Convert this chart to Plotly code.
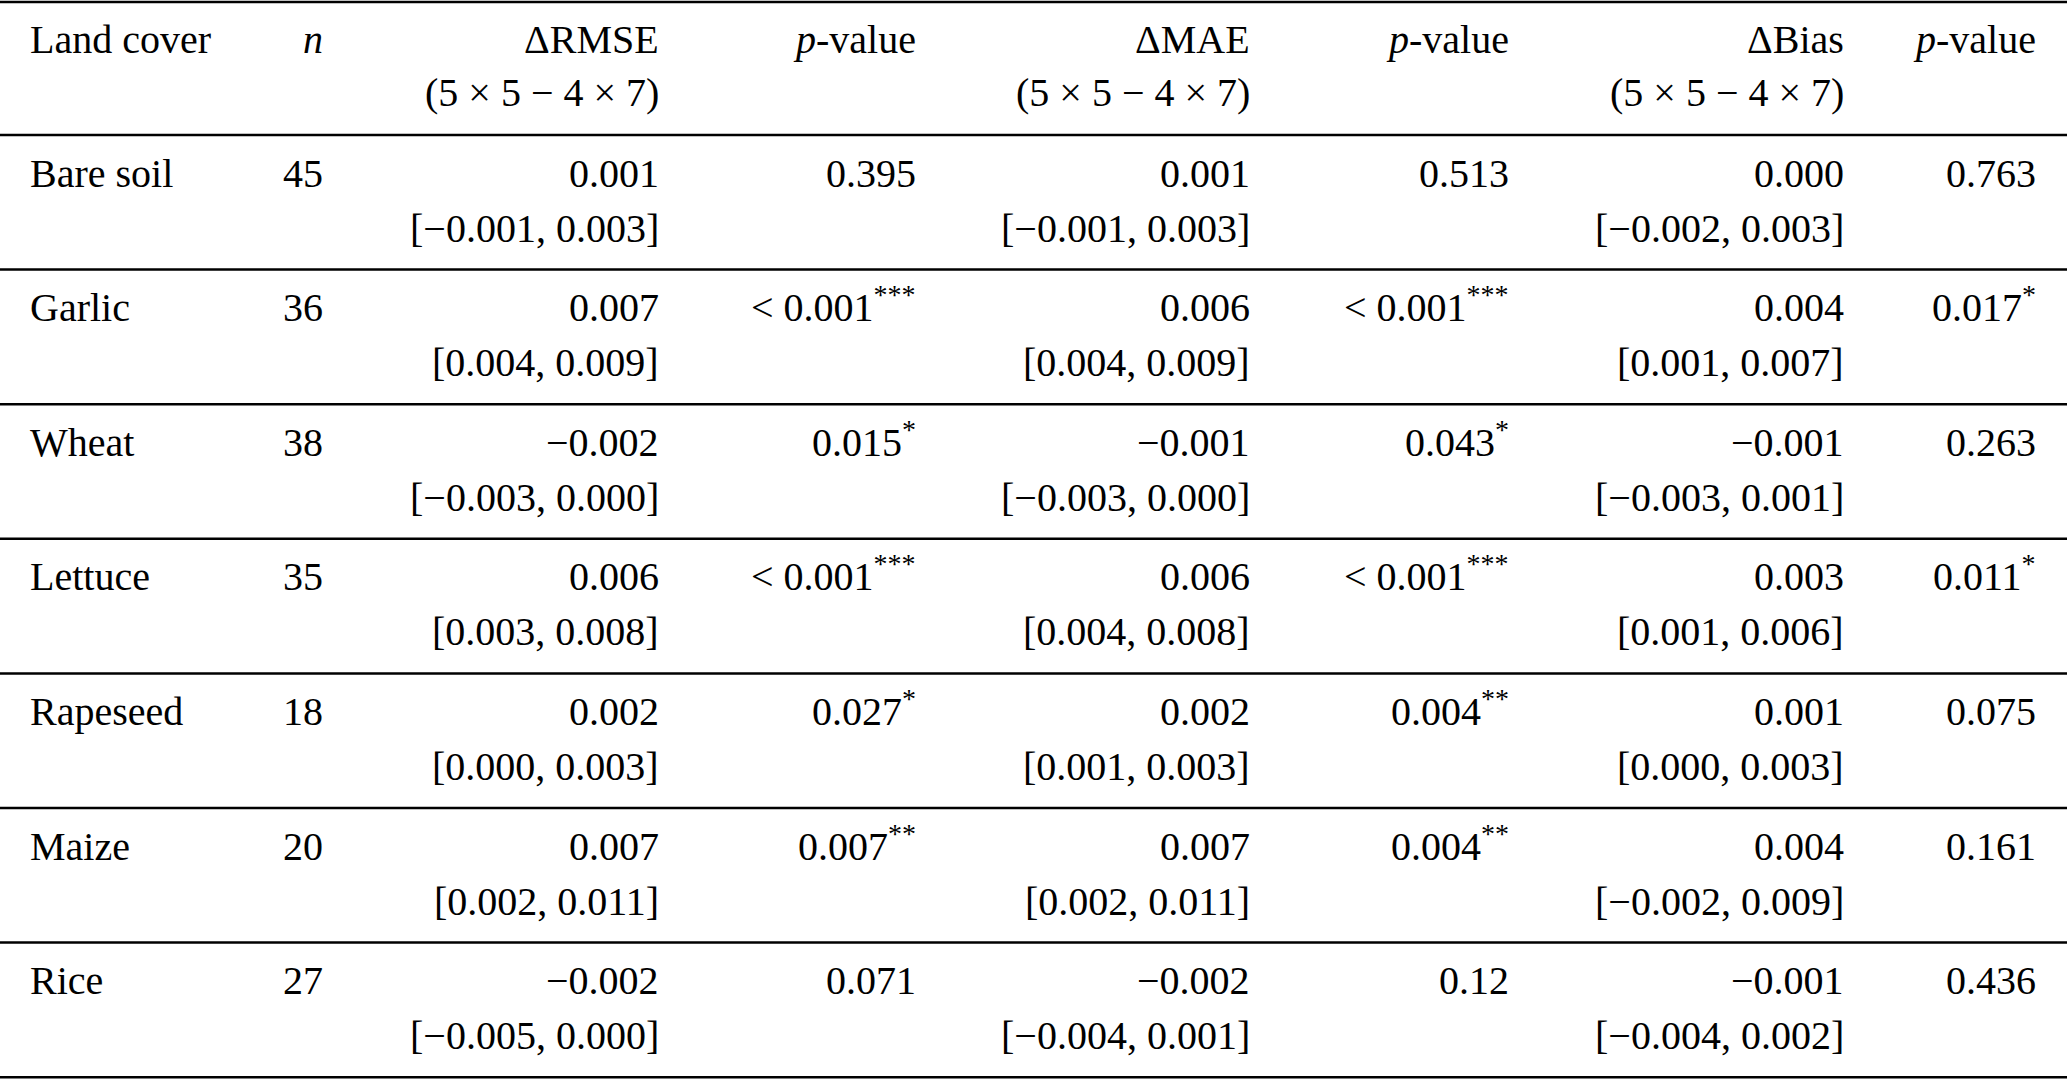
import plotly.graph_objects as go

# ==========================================
# TABLE DATA
# ==========================================
land_cover = ["Bare soil", "Garlic", "Wheat", "Lettuce", "Rapeseed", "Maize", "Rice"]
n_obs = [45, 36, 38, 35, 18, 20, 27]

d_rmse = ["0.001", "0.007", "−0.002", "0.006", "0.002", "0.007", "−0.002"]
d_rmse_ci = ["[−0.001, 0.003]", "[0.004, 0.009]", "[−0.003, 0.000]", "[0.003, 0.008]",
             "[0.000, 0.003]", "[0.002, 0.011]", "[−0.005, 0.000]"]
p_rmse = ["0.395", "< 0.001", "0.015", "< 0.001", "0.027", "0.007", "0.071"]
sig_rmse = ["", "***", "*", "***", "*", "**", ""]

d_mae = ["0.001", "0.006", "−0.001", "0.006", "0.002", "0.007", "−0.002"]
d_mae_ci = ["[−0.001, 0.003]", "[0.004, 0.009]", "[−0.003, 0.000]", "[0.004, 0.008]",
            "[0.001, 0.003]", "[0.002, 0.011]", "[−0.004, 0.001]"]
p_mae = ["0.513", "< 0.001", "0.043", "< 0.001", "0.004", "0.004", "0.12"]
sig_mae = ["", "***", "*", "***", "**", "**", ""]

d_bias = ["0.000", "0.004", "−0.001", "0.003", "0.001", "0.004", "−0.001"]
d_bias_ci = ["[−0.002, 0.003]", "[0.001, 0.007]", "[−0.003, 0.001]", "[0.001, 0.006]",
             "[0.000, 0.003]", "[−0.002, 0.009]", "[−0.004, 0.002]"]
p_bias = ["0.763", "0.017", "0.263", "0.011", "0.075", "0.161", "0.436"]
sig_bias = ["", "*", "", "*", "", "", ""]

header_top = ["Land cover", "<i>n</i>", "ΔRMSE", "<i>p</i>-value", "ΔMAE", "<i>p</i>-value",
              "ΔBias", "<i>p</i>-value"]
header_sub = ["", "", "(5 × 5 − 4 × 7)", "", "(5 × 5 − 4 × 7)", "", "(5 × 5 − 4 × 7)", ""]

# ==========================================
# LAYOUT CONFIG
# ==========================================
W, H = 2067, 1079
FONT = "Liberation Serif, Times New Roman, serif"
SIZE = 40
DESC = 0.216 * SIZE          # distance from baseline to text box bottom

col_x = [30, 323, 659, 916, 1250, 1509, 1844, 2036]
col_anchor = ["left"] + ["right"] * 7

head_base = [53, 106]
rule_top = 2
rule_head = 135
row_h = 134.6
line1_off, line2_off = 52, 107


def p_text(p, s):
    p = p.replace("<", "&lt;")
    return p + (f"<sup>{s}</sup>" if s else "")


fig = go.Figure()
annotations = []


def add_text(x, baseline, text, anchor):
    annotations.append(dict(
        x=x, y=baseline + DESC, xref="x", yref="y", text=text, showarrow=False,
        xanchor=anchor, yanchor="bottom", borderpad=0, borderwidth=0,
        font=dict(family=FONT, size=SIZE, color="black"), align=anchor,
    ))


# header
for c in range(8):
    add_text(col_x[c], head_base[0], header_top[c], col_anchor[c])
    if header_sub[c]:
        add_text(col_x[c], head_base[1], header_sub[c], col_anchor[c])

# body rows
for i in range(len(land_cover)):
    top = rule_head + i * row_h
    b1, b2 = top + line1_off, top + line2_off
    first = [land_cover[i], str(n_obs[i]), d_rmse[i], p_text(p_rmse[i], sig_rmse[i]),
             d_mae[i], p_text(p_mae[i], sig_mae[i]), d_bias[i], p_text(p_bias[i], sig_bias[i])]
    for c in range(8):
        add_text(col_x[c], b1, first[c], col_anchor[c])
    for c, ci in zip([2, 4, 6], [d_rmse_ci[i], d_mae_ci[i], d_bias_ci[i]]):
        add_text(col_x[c], b2, ci, "right")

# horizontal rules
rules = [rule_top, rule_head] + [rule_head + (i + 1) * row_h for i in range(len(land_cover))]
xs, ys = [], []
for r in rules:
    xs += [0, W, None]
    ys += [r, r, None]
fig.add_trace(go.Scatter(x=xs, y=ys, mode="lines", line=dict(color="black", width=2.5),
                         hoverinfo="skip", showlegend=False))

fig.update_layout(
    width=W, height=H, margin=dict(l=0, r=0, t=0, b=0),
    paper_bgcolor="white", plot_bgcolor="white",
    xaxis=dict(range=[0, W], visible=False, fixedrange=True),
    yaxis=dict(range=[H, 0], visible=False, fixedrange=True),
    annotations=annotations, showlegend=False,
)
# drop the default 8px body margin so the table sits flush with the window
fig.write_html("out.html", config={"displayModeBar": False},
               post_script="document.body.style.margin='0px';")
